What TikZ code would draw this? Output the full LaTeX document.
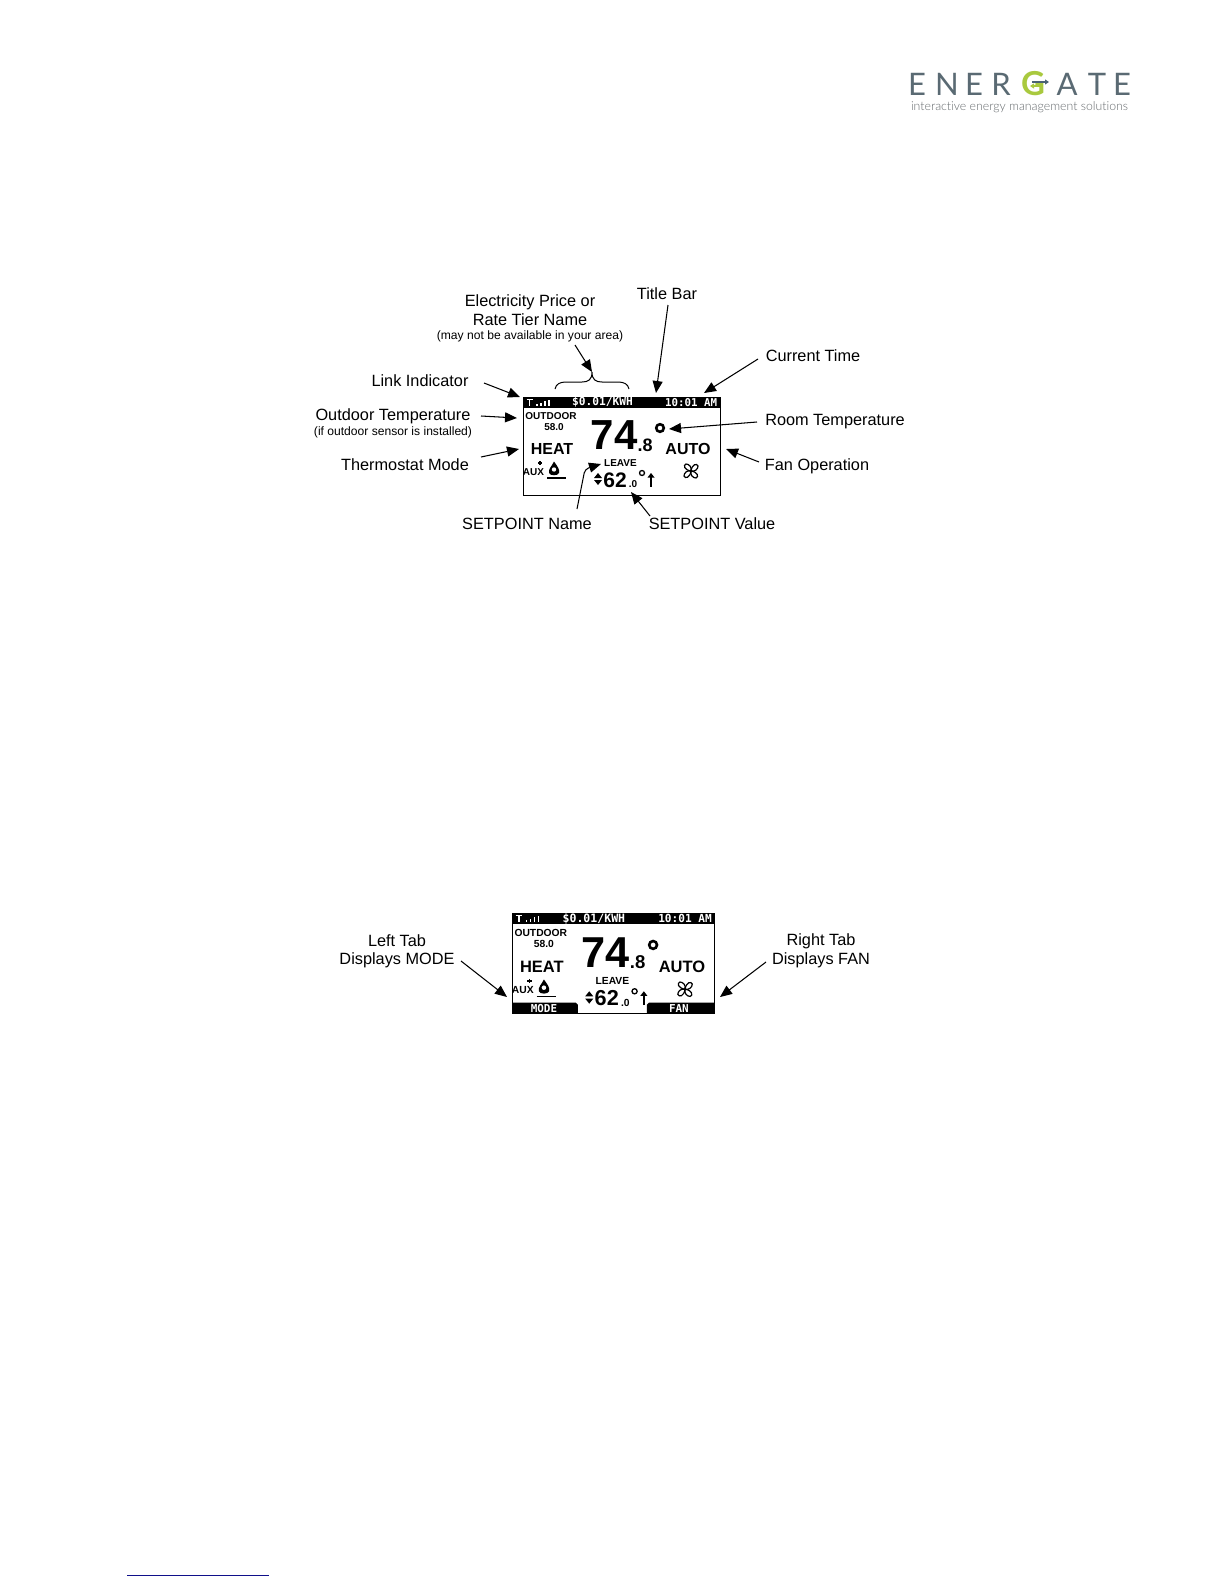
\documentclass[tikz,border=0pt]{standalone}
\usepackage{fontspec}
\setmainfont{Liberation Sans}
\newfontfamily\lcdmono{DejaVu Sans Mono}
\newfontfamily\logofont[Ligatures=NoCommon]{Lato Light}
\newfontfamily\logoreg{Lato}
\usetikzlibrary{arrows.meta}
\definecolor{logogrey}{HTML}{5A6A73}
\definecolor{logotag}{HTML}{666B6E}
\definecolor{logogreen}{HTML}{A9C93E}
\definecolor{logoblue}{HTML}{4A6274}
\definecolor{linkblue}{HTML}{10108A}
\newcommand{\fsz}[1]{\fontsize{#1}{#1}\selectfont}
\tikzset{
  lab/.style={inner sep=0pt,font=\fsz{16.3},align=center},
  labsmall/.style={inner sep=0pt,font=\fsz{12.1},align=center},
  ptr/.style={draw=black,line width=1.05pt,-{Triangle[length=12pt,width=10pt]}},
  lcdb/.style={inner sep=0pt,transform shape,font=\bfseries\fsz{#1}},
  lcdm/.style={inner sep=0pt,transform shape,text=white,font=\lcdmono\bfseries\fsz{#1}},
  logol/.style={inner sep=0pt,text=logogrey,font=\logoreg\fsz{31}},
}
\newcommand{\lcdpanel}[4]{%
\begin{scope}[shift={(#2,#3)},scale=#4]
  \draw[line width=1pt,fill=white] (0,0) rectangle (197,98);
  \fill[black] (0,0) rectangle (197,10.5);
  % link indicator
  \draw[white,line width=1.2pt] (3.5,2.5) -- (10,2.5) (6.8,2.5) -- (6.8,8.5);
  \foreach \xx/\yy in {14/7,18/6,22/4,26/2.5}{\draw[white,line width=1.2pt] (\xx,8.5) -- (\xx,\yy);}
  \node[lcdm=11.2] (#1price) at (79.5,5.5) {\$0.01/KWH};
  \node[lcdm=10.8] (#1time) at (168,5.5) {10:01 AM};
  \node[lcdb=10] (#1outl) at (28,19) {OUTDOOR};
  \node[lcdb=10] (#1outv) at (31,30) {58.0};
  \node[lcdb=16] (#1heat) at (29,52) {HEAT};
  \node[lcdb=42] (#1temp) at (91,38.5) {74};
  \node[lcdb=18] (#1frac) at (122,48) {.8};
  \draw[line width=2.6pt] (137,31) circle (3.8);
  \node[lcdb=16] (#1auto) at (165,52) {AUTO};
  \node[lcdb=10] (#1leave) at (97.5,66) {LEAVE};
  \node[lcdb=21] (#1set) at (92,83) {62};
  \node[lcdb=10] (#1setf) at (110,87) {.0};
  \draw[line width=1.3pt] (119,76) circle (2.5);
  % up arrow, up/down marker
  \draw[line width=1.5pt] (128,89.5) -- (128,78);
  \fill (124.5,80.5) -- (131.5,80.5) -- (128,76) -- cycle;
  \fill (71,81) -- (79,81) -- (75,76) -- cycle;
  \fill (71,83) -- (79,83) -- (75,88) -- cycle;
  % AUX and flame
  \node[lcdb=10] (#1aux) at (10.5,75) {AUX};
  \draw[line width=1.2pt] (15,66) -- (19,66) (17,64) -- (17,68);
  \fill (31,64.5) .. controls (34,69) and (37,72) .. (36,76) .. controls (35,79) and (27,79) .. (26,76) .. controls (25,72) and (29,69) .. (31,64.5) -- cycle;
  \fill[white] (31,72.5) circle (2.2);
  \draw[line width=1.4pt] (24,81) -- (43,81);
  % fan
  \begin{scope}[shift={(168,74)}]
    \foreach \rr in {0,90,180,270}{
      \draw[line width=1.2pt,rotate=\rr] (0,0) .. controls (1,-4) and (-2,-7) .. (-5,-7) .. controls (-8,-6) and (-7,-1) .. (0,0);
    }
  \end{scope}
\end{scope}}
\begin{document}
\begin{tikzpicture}[x=1pt,y=-1pt]
\useasboundingbox (0,0) rectangle (1224,1584);
\fill[white] (0,0) rectangle (1224,1584);

% logo
\node[logol] (lgE1) at (917,84) {E};
\node[logol] (lgN) at (947,84) {N};
\node[logol] (lgE2) at (974,84) {E};
\node[logol] (lgR) at (1001,84) {R};
\node[inner sep=0pt,text=logogreen,font=\logoreg\bfseries\fsz{33}] (lgG) at (1033,84) {G};
\node[logol] (lgA) at (1067,84) {A};
\node[logol] (lgT) at (1097,84) {T};
\node[logol] (lgE3) at (1122,84) {E};
\draw[logoblue,line width=1.6pt,-{Triangle[length=4pt,width=5pt]}] (1032,82) -- (1049,82);
\draw[logogreen,line width=1.4pt,{Triangle[length=4pt,width=5pt]}-] (1030,86) -- (1041,86);
\node[inner sep=0pt,text=logotag] (lgtag) at (1019.5,107) {\resizebox{217pt}{!}{\logofont interactive energy management solutions}};

% first panel
\lcdpanel{a}{523}{397}{1}

\node[lab] (lPrice) at (530,302) {Electricity Price or};
\node[lab] (lRate) at (530,320) {Rate Tier Name};
\node[labsmall] (lAvail) at (530,336) {(may not be available in your area)};
\node[lab] (lTitle) at (667,294) {Title Bar};
\node[lab] (lCurr) at (813,356) {Current Time};
\node[lab] (lLink) at (420,380.5) {Link Indicator};
\node[lab] (lOut) at (393,416) {Outdoor Temperature};
\node[labsmall] (lOutS) at (393,432) {(if outdoor sensor is installed)};
\node[lab] (lMode) at (405,465) {Thermostat Mode};
\node[lab] (lRoom) at (835,421.5) {Room Temperature};
\node[lab] (lFan) at (817,466) {Fan Operation};
\node[lab] (lSetN) at (527,524) {SETPOINT Name};
\node[lab] (lSetV) at (712,524) {SETPOINT Value};

% brace
\coordinate (bL) at (555,389);
\coordinate (bR) at (629,389);
\coordinate (bT) at (592,372);
\draw[line width=1pt] (bL) .. controls (556,384) and (560,382) .. (566,382) -- (582,382) .. controls (588,382) and (592,380) .. (bT) .. controls (592,380) and (596,382) .. (602,382) -- (618,382) .. controls (624,382) and (628,384) .. (bR);

\coordinate (tPrice) at (592,372);
\coordinate (tTitle) at (656,393);
\coordinate (tCurr) at (704,393);
\coordinate (tLink) at (520,397);
\coordinate (tOut) at (517,418);
\coordinate (tMode) at (519,449);
\coordinate (tRoom) at (669,429);
\coordinate (tFan) at (726,449);
\coordinate (tSetN) at (601,464);
\coordinate (tSetV) at (631,492);

\draw[ptr] ([shift={(45,9)}]lAvail.center) -- (tPrice);
\draw[ptr] ([shift={(1,11)}]lTitle.center) -- (tTitle);
\draw[ptr] ([shift={(-55,3)}]lCurr.center) -- (tCurr);
\draw[ptr] ([shift={(64,2.5)}]lLink.center) -- (tLink);
\draw[ptr] ([shift={(88,0)}]lOut.center) -- (tOut);
\draw[ptr] ([shift={(76,-8)}]lMode.center) -- (tMode);
\draw[ptr] ([shift={(-78,0.5)}]lRoom.center) -- (tRoom);
\draw[ptr] ([shift={(-58,-4)}]lFan.center) -- (tFan);
\draw[ptr,rounded corners=4pt] ([shift={(50,-15)}]lSetN.center) -- (585,469) -- (tSetN);
\draw[ptr] ([shift={(-62,-8)}]lSetV.center) -- (tSetV);

% second panel
\lcdpanel{b}{512}{913}{1.03}
\begin{scope}[shift={(512,913)},scale=1.03]
  \fill (0,97.5) -- (0,87) -- (62,87) -- (64,89) -- (64,97.5) -- cycle;
  \fill (197,97.5) -- (197,87) -- (133,87) -- (131,89) -- (131,97.5) -- cycle;
  \node[lcdm=10.6] (bmode) at (31,93) {MODE};
  \node[lcdm=10.6] (bfan) at (162,93) {FAN};
\end{scope}

\node[lab] (lLeft) at (397,941) {Left Tab};
\node[lab] (lLeftD) at (397,960) {Displays MODE};
\node[lab] (lRight) at (821,941) {Right Tab};
\node[lab] (lRightD) at (821,960) {Displays FAN};
\coordinate (tLeft) at (507,997);
\coordinate (tRight) at (720,997);
\draw[ptr] ([shift={(64,1)}]lLeftD.center) -- (tLeft);
\draw[ptr] ([shift={(-55,2)}]lRightD.center) -- (tRight);

% footer rule
\coordinate (fA) at (127,1575);
\coordinate (fB) at (269,1575);
\draw[color=linkblue,line width=1pt] (fA) -- (fB);
\end{tikzpicture}
\end{document}
